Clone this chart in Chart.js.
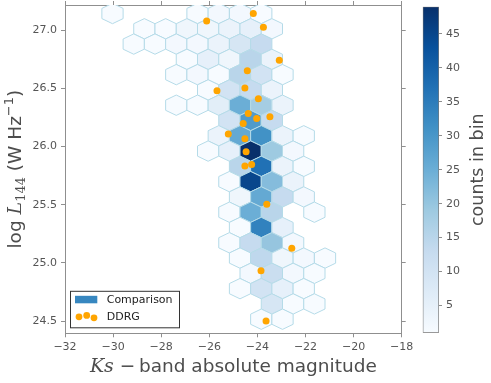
<!DOCTYPE html>
<html>
<head>
<meta charset="utf-8">
<script src="https://cdn.jsdelivr.net/npm/chart.js@4.4.0/dist/chart.umd.min.js"></script>
<style>
  html, body { margin: 0; padding: 0; background: #fff; }
  #wrap { position: relative; width: 491px; height: 383px; }
  #mainChart { position: absolute; left: 0; top: 0; }
  #barChart { position: absolute; left: 400px; top: 0; }
</style>
</head>
<body>
<div id="wrap">
  <canvas id="mainChart" width="491" height="383"></canvas>
  <canvas id="barChart" width="91" height="383"></canvas>
</div>
<script>
// --- hexbin lattice (data units) ---
const gridX0 = -30.025;    // centre of column 0
const gridStepX = 0.4418;  // half a hex width (odd rows are shifted by this)
const gridY0 = 27.142;     // centre of row 0
const gridStepY = 0.1313;  // row spacing

// --- Comparison sample: counts per hex cell ---
const hexRow = [
  0,0,0,0,0,
  1,1,1,1,1,1,1,
  2,2,2,2,2,2,2,
  3,3,3,3,3,
  4,4,4,4,4,4,
  5,5,5,5,
  6,6,6,6,6,6,
  7,7,7,
  8,8,8,8,8,
  9,9,9,9,9,
  10,10,10,10,
  11,11,11,11,
  12,12,12,12,
  13,13,13,13,
  14,14,14,
  15,15,15,15,
  16,16,16,16,16,
  17,17,17,17,
  18,18,18,18,
  19,19,19,
  20,20
];
const hexCol = [
  0,8,10,12,14,
  3,5,7,9,11,13,15,
  2,4,6,8,10,12,14,
  7,9,11,13,15,
  6,8,10,12,14,16,
  9,11,13,15,
  6,8,10,12,14,16,
  11,13,15,
  10,12,14,16,18,
  9,11,13,15,17,
  12,14,16,18,
  11,13,15,17,
  12,14,16,18,
  11,13,15,19,
  12,14,16,
  11,13,15,17,
  12,14,16,18,20,
  13,15,17,19,
  12,14,16,18,
  15,17,19,
  14,16
];
const hexCount = [
  1,1,2,2,1,
  1,1,3,3,4,5,2,
  1,1,2,2,4,9,13,
  1,5,3,15,4,
  1,2,1,15,10,1,
  1,10,13,4,
  1,1,6,25,18,4,
  10,29,13,
  4,26,31,4,1,
  1,5,49,19,2,
  15,37,4,1,
  1,45,22,4,
  3,26,13,2,
  1,25,15,1,
  1,34,5,
  1,13,20,2,
  1,14,3,2,1,
  2,12,2,1,
  1,10,5,1,
  9,1,1,
  1,1
];

// --- DDRG sources ---
const ddrgX = [-24.17, -26.11, -23.75, -23.09, -24.42, -25.68, -24.52, -23.96, -24.38, -24.03, -23.48,
               -24.59, -25.21, -24.52, -24.47, -24.52, -24.24, -23.61, -22.57, -23.85, -23.64];
const ddrgY = [27.143, 27.077, 27.023, 26.74, 26.65, 26.478, 26.502, 26.41, 26.283, 26.241, 26.255,
               26.198, 26.107, 26.066, 25.955, 25.832, 25.846, 25.503, 25.125, 24.932, 24.50];

// --- axes ---
const xTicks = [-32, -30, -28, -26, -24, -22, -20, -18];
const yTicks = [24.5, 25.0, 25.5, 26.0, 26.5, 27.0];
const cbarTicks = [5, 10, 15, 20, 25, 30, 35, 40, 45];
const countMin = 1, countMax = 49;

// matplotlib "Blues"
const bluesStops = [[247,251,255],[222,235,247],[198,219,239],[158,202,225],[107,174,214],
                    [66,146,198],[33,113,181],[8,81,156],[8,48,107]];
function blues(t) {
  t = Math.max(0, Math.min(1, t));
  const p = t * (bluesStops.length - 1);
  const i = Math.min(Math.floor(p), bluesStops.length - 2);
  const f = p - i;
  const c = bluesStops[i].map((v, k) => Math.round(v + (bluesStops[i + 1][k] - v) * f));
  return `rgb(${c[0]},${c[1]},${c[2]})`;
}

const minus = v => (v < 0 ? '\u2212' + Math.abs(v) : String(v));
const spine = '#8f8f8f';
const textGray = '#555';

const hexPoints = hexCount.map((n, i) => ({
  x: gridX0 + hexCol[i] * gridStepX,
  y: gridY0 - hexRow[i] * gridStepY,
  n: n
}));

// --- draw hexagons through the scales ---
const hexbinPlugin = {
  id: 'hexbin',
  beforeDatasetsDraw(chart) {
    const { ctx, chartArea, scales } = chart;
    const hw = gridStepX, s6 = gridStepY / 3, s3 = 2 * gridStepY / 3;
    ctx.save();
    ctx.beginPath();
    ctx.rect(chartArea.left, chartArea.top, chartArea.width, chartArea.height);
    ctx.clip();
    chart.data.datasets[0].data.forEach(p => {
      const corners = [[p.x + hw, p.y - s6], [p.x + hw, p.y + s6], [p.x, p.y + s3],
                       [p.x - hw, p.y + s6], [p.x - hw, p.y - s6], [p.x, p.y - s3]];
      ctx.beginPath();
      corners.forEach(([vx, vy], k) => {
        const px = scales.x.getPixelForValue(vx), py = scales.y.getPixelForValue(vy);
        if (k) ctx.lineTo(px, py); else ctx.moveTo(px, py);
      });
      ctx.closePath();
      ctx.fillStyle = blues((p.n - countMin) / (countMax - countMin));
      ctx.fill();
      ctx.strokeStyle = '#b5dbe8';
      ctx.lineWidth = 1;
      ctx.stroke();
    });
    ctx.restore();
  }
};

// --- axis titles and legend ---
const labelsPlugin = {
  id: 'labels',
  afterDraw(chart) {
    const { ctx, chartArea } = chart;
    ctx.save();
    ctx.fillStyle = '#4d4d4d';
    ctx.textBaseline = 'alphabetic';
    ctx.textAlign = 'left';

    // x title: Ks − band absolute magnitude
    const xParts = [
      { t: 'Ks', f: 'italic 19px "DejaVu Serif"' },
      { t: ' \u2212', f: '18.5px "DejaVu Sans"' },
      { t: '\u2009band absolute magnitude', f: '18.5px "DejaVu Sans"' }
    ];
    let total = 0;
    xParts.forEach(p => { ctx.font = p.f; p.w = ctx.measureText(p.t).width; total += p.w; });
    let cx = (chartArea.left + chartArea.right) / 2 - total / 2;
    xParts.forEach(p => { ctx.font = p.f; ctx.fillText(p.t, cx, 372); cx += p.w; });

    // y title: log L_144 (W Hz^-1)
    ctx.save();
    ctx.translate(21, (chartArea.top + chartArea.bottom) / 2);
    ctx.rotate(-Math.PI / 2);
    const yParts = [
      { t: 'log ', f: '18.5px "DejaVu Sans"', dy: 0 },
      { t: 'L', f: 'italic 19px "DejaVu Serif"', dy: 0 },
      { t: '144', f: '13px "DejaVu Serif"', dy: 4 },
      { t: ' (W Hz', f: '18.5px "DejaVu Sans"', dy: 0 },
      { t: '\u22121', f: '13px "DejaVu Sans"', dy: -8 },
      { t: ')', f: '18.5px "DejaVu Sans"', dy: 0 }
    ];
    total = 0;
    yParts.forEach(p => { ctx.font = p.f; p.w = ctx.measureText(p.t).width; total += p.w; });
    cx = -total / 2;
    yParts.forEach(p => { ctx.font = p.f; ctx.fillText(p.t, cx, p.dy); cx += p.w; });
    ctx.restore();

    // legend
    const lx = chartArea.left + 5, ly = chartArea.bottom - 42.5;
    ctx.fillStyle = '#fff';
    ctx.fillRect(lx, ly, 109, 36.5);
    ctx.strokeStyle = '#333';
    ctx.lineWidth = 1;
    ctx.strokeRect(lx + 0.5, ly + 0.5, 109, 36.5);
    ctx.fillStyle = '#3787c0';
    ctx.fillRect(lx + 5, ly + 5, 22.3, 7.5);
    ctx.fillStyle = '#ffa500';
    [[9, 26], [16.7, 24.6], [24, 27]].forEach(([dx, dy]) => {
      ctx.beginPath(); ctx.arc(lx + dx, ly + dy, 3.4, 0, Math.PI * 2); ctx.fill();
    });
    ctx.fillStyle = '#222';
    ctx.font = '11px "DejaVu Sans"';
    ctx.textBaseline = 'middle';
    ctx.fillText('Comparison', lx + 36.7, ly + 9);
    ctx.fillText('DDRG', lx + 36.7, ly + 26);
    ctx.restore();
  }
};

const tickFont = { family: 'DejaVu Sans', size: 11 };
const gridOpts = { drawOnChartArea: false, drawTicks: true, tickLength: 4, color: spine };

// fixed box sizes so the plot area lands where the reference has it
function fixBox(w, h) {
  return s => {
    if (w !== null) s.width = w;
    if (h !== null) s.height = h;
    s.paddingTop = 0; s.paddingBottom = 0; s.paddingLeft = 0; s.paddingRight = 0;
  };
}

new Chart(document.getElementById('mainChart'), {
  type: 'scatter',
  data: {
    datasets: [
      { label: 'Comparison', data: hexPoints, pointRadius: 0, pointHoverRadius: 0 },
      {
        label: 'DDRG',
        data: ddrgX.map((x, i) => ({ x: x, y: ddrgY[i] })),
        backgroundColor: '#ffa500',
        borderWidth: 0,
        pointRadius: 3.5
      }
    ]
  },
  options: {
    responsive: false,
    animation: false,
    events: [],
    layout: { padding: 0, autoPadding: false },
    plugins: { legend: { display: false }, tooltip: { enabled: false } },
    scales: {
      x: {
        type: 'linear', position: 'bottom', min: -32, max: -18,
        afterBuildTicks: s => { s.ticks = xTicks.map(v => ({ value: v })); },
        ticks: { color: textGray, font: tickFont, padding: 3, maxRotation: 0, autoSkip: false, callback: minus },
        grid: gridOpts,
        border: { color: spine, width: 1 },
        afterFit: fixBox(null, 49.7)
      },
      x2: {
        type: 'linear', position: 'top', min: -32, max: -18,
        afterBuildTicks: s => { s.ticks = xTicks.map(v => ({ value: v })); },
        ticks: { display: false },
        grid: gridOpts,
        border: { color: spine, width: 1 },
        afterFit: fixBox(null, 5)
      },
      y: {
        type: 'linear', position: 'left', min: 24.395, max: 27.215,
        afterBuildTicks: s => { s.ticks = yTicks.map(v => ({ value: v })); },
        ticks: { color: textGray, font: tickFont, padding: 4, autoSkip: false, callback: v => v.toFixed(1) },
        grid: gridOpts,
        border: { color: spine, width: 1 },
        afterFit: fixBox(65, null)
      },
      y2: {
        type: 'linear', position: 'right', min: 24.395, max: 27.215,
        afterBuildTicks: s => { s.ticks = yTicks.map(v => ({ value: v })); },
        ticks: { display: false },
        grid: gridOpts,
        border: { color: spine, width: 1 },
        afterFit: fixBox(89.3, null)
      }
    }
  },
  plugins: [hexbinPlugin, labelsPlugin]
});

// --- colorbar ---
const cbarTitlePlugin = {
  id: 'cbarTitle',
  afterDraw(chart) {
    const { ctx, chartArea } = chart;
    ctx.save();
    ctx.translate(83, (chartArea.top + chartArea.bottom) / 2);
    ctx.rotate(-Math.PI / 2);
    ctx.fillStyle = '#4d4d4d';
    ctx.font = '17.5px "DejaVu Sans"';
    ctx.textAlign = 'center';
    ctx.textBaseline = 'alphabetic';
    ctx.fillText('counts in bin', 0, 0);
    ctx.restore();
  }
};

new Chart(document.getElementById('barChart'), {
  type: 'bar',
  data: {
    labels: [''],
    datasets: [{
      data: [[countMin, countMax]],
      backgroundColor: c => {
        const { chart } = c;
        if (!chart.chartArea) return null;
        const ys = chart.scales.y;
        const g = chart.ctx.createLinearGradient(0, ys.getPixelForValue(countMin), 0, ys.getPixelForValue(countMax));
        bluesStops.forEach((s, i) => g.addColorStop(i / (bluesStops.length - 1), `rgb(${s[0]},${s[1]},${s[2]})`));
        return g;
      },
      borderColor: '#777',
      borderWidth: 1,
      borderSkipped: false,
      barPercentage: 1,
      categoryPercentage: 1
    }]
  },
  options: {
    responsive: false,
    animation: false,
    events: [],
    layout: { padding: { left: 22.7, top: 6.7, bottom: 50.3, right: 0 }, autoPadding: false },
    plugins: { legend: { display: false }, tooltip: { enabled: false } },
    scales: {
      x: { display: false },
      y: {
        position: 'right', min: countMin, max: countMax,
        afterBuildTicks: s => { s.ticks = cbarTicks.map(v => ({ value: v })); },
        ticks: { color: textGray, font: tickFont, padding: 4, autoSkip: false },
        grid: { drawOnChartArea: false, drawTicks: true, tickLength: 3, color: spine },
        border: { display: false },
        afterFit: fixBox(52, null)
      }
    }
  },
  plugins: [cbarTitlePlugin]
});
</script>
</body>
</html>
